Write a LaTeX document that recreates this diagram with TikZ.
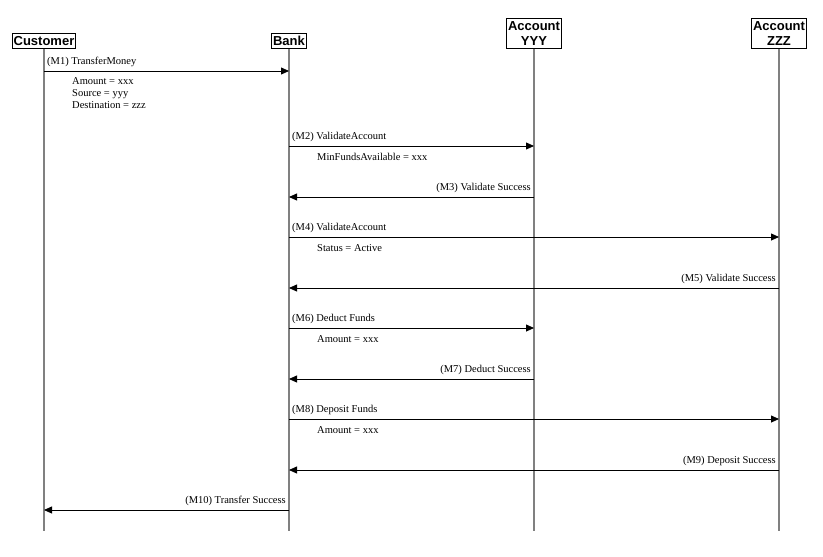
\documentclass[tikz,border=0pt]{standalone}
\usepackage{fontspec}
\setmainfont{Liberation Serif}
\setsansfont{Liberation Sans}
\usetikzlibrary{arrows.meta}
\tikzset{
	actor/.style={draw, anchor=south, align=center, inner xsep=1.5pt, inner ysep=3pt, line width=0.8pt,
		font=\sffamily\bfseries\fontsize{13}{15}\selectfont},
	life/.style={draw=black!50, line width=1.3pt},
	msg/.style={line width=0.8pt, -{Triangle[length=8pt,width=7pt]}},
	lbl/.style={inner sep=0pt, font=\fontsize{10.5}{12}\selectfont},
	note/.style={inner sep=0pt, anchor=north west, align=left, font=\fontsize{10.5}{12}\selectfont}
}
\begin{document}
\begin{tikzpicture}[x=1pt, y=-1pt]
	\useasboundingbox (0, 0) rectangle (823, 557);
	% participants
	\node[actor] at (44, 49) (cust) {Customer};
	\node[actor] at (289, 49) (bank) {Bank};
	\node[actor] at (534, 49) (accy) {Account\\YYY};
	\node[actor] at (779, 49) (accz) {Account\\ZZZ};
	\coordinate (cust-end) at (44, 531);
	\coordinate (bank-end) at (289, 531);
	\coordinate (accy-end) at (534, 531);
	\coordinate (accz-end) at (779, 531);
	\draw[life] (cust.south) -- (cust-end);
	\draw[life] (bank.south) -- (bank-end);
	\draw[life] (accy.south) -- (accy-end);
	\draw[life] (accz.south) -- (accz-end);
	% messages
	\draw[msg] (cust |- 0, 71) -- (bank |- 0, 71);
	\node[lbl, anchor=south west] at (47, 67) (m1) {(M1) TransferMoney};
	\node[note] at (72, 77) (n1) {Amount = xxx\\Source = yyy\\Destination = zzz};
	\draw[msg] (bank |- 0, 146) -- (accy |- 0, 146);
	\node[lbl, anchor=south west] at (292, 142) (m2) {(M2) ValidateAccount};
	\node[note] at (317, 153) (n2) {MinFundsAvailable = xxx};
	\draw[msg] (accy |- 0, 197) -- (bank |- 0, 197);
	\node[lbl, anchor=south east] at (531, 193) (m3) {(M3) Validate Success};
	\draw[msg] (bank |- 0, 237) -- (accz |- 0, 237);
	\node[lbl, anchor=south west] at (292, 233) (m4) {(M4) ValidateAccount};
	\node[note] at (317, 244) (n4) {Status = Active};
	\draw[msg] (accz |- 0, 288) -- (bank |- 0, 288);
	\node[lbl, anchor=south east] at (776, 284) (m5) {(M5) Validate Success};
	\draw[msg] (bank |- 0, 328) -- (accy |- 0, 328);
	\node[lbl, anchor=south west] at (292, 324) (m6) {(M6) Deduct Funds};
	\node[note] at (317, 335) (n6) {Amount = xxx};
	\draw[msg] (accy |- 0, 379) -- (bank |- 0, 379);
	\node[lbl, anchor=south east] at (531, 375) (m7) {(M7) Deduct Success};
	\draw[msg] (bank |- 0, 419) -- (accz |- 0, 419);
	\node[lbl, anchor=south west] at (292, 415) (m8) {(M8) Deposit Funds};
	\node[note] at (317, 426) (n8) {Amount = xxx};
	\draw[msg] (accz |- 0, 470) -- (bank |- 0, 470);
	\node[lbl, anchor=south east] at (776, 466) (m9) {(M9) Deposit Success};
	\draw[msg] (bank |- 0, 510) -- (cust |- 0, 510);
	\node[lbl, anchor=south east] at (286, 506) (m10) {(M10) Transfer Success};
\end{tikzpicture}
\end{document}
